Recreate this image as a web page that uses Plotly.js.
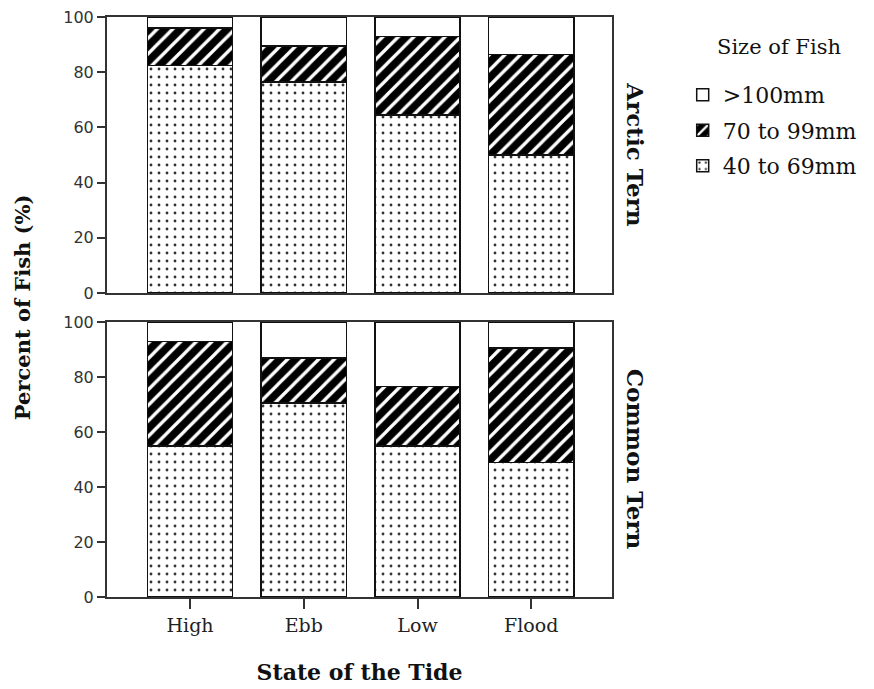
<!DOCTYPE html>
<html>
<head>
<meta charset="utf-8">
<script src="https://cdn.plot.ly/plotly-3.0.1.min.js"></script>
<style>html,body{margin:0;padding:0;background:#fff;}#chart{width:874px;height:689px;}</style>
</head>
<body>
<div id="chart"></div>
<script>
const tides = ['High', 'Ebb', 'Low', 'Flood'];
const sizeLabels = ['40 to 69mm', '70 to 99mm', '>100mm'];
const arctic40to69 = [82.5, 76.5, 64.5, 50];
const arctic70to99 = [13.5, 13, 28.5, 36.5];
const arcticOver100 = [4, 10.5, 7, 13.5];
const common40to69 = [55, 70.5, 55, 49];
const common70to99 = [38, 16.5, 21.5, 41.5];
const commonOver100 = [7, 13, 23.5, 9.5];
const panelLabels = ['Arctic Tern', 'Common Tern'];
const legendTitle = 'Size of Fish';

const outline = {color: '#111', width: 1.5};
const styles = [
  {color: 'white', line: outline, pattern: {shape: '.', fgcolor: '#333', bgcolor: 'white', size: 8, solidity: 0.1}},
  {color: 'black', line: outline, pattern: {shape: '/', fgcolor: 'white', bgcolor: 'black', size: 11, solidity: 0.3}},
  {color: 'white', line: outline}
];

function makeTraces(series, xa, ya, showLegend) {
  return series.map((vals, i) => ({
    type: 'bar', x: tides, y: vals, name: sizeLabels[i],
    xaxis: xa, yaxis: ya, marker: styles[i], showlegend: showLegend,
    legendgroup: sizeLabels[i], legendrank: 1000 - i, hoverinfo: 'skip'
  }));
}

const data = [
  ...makeTraces([arctic40to69, arctic70to99, arcticOver100], 'x', 'y', true),
  ...makeTraces([common40to69, common70to99, commonOver100], 'x2', 'y2', false)
];

const serif = 'DejaVu Serif, Liberation Serif, serif';
const yTickFont = {family: 'DejaVu Sans', size: 16, color: '#333'};
const axisCommon = {linecolor: '#333', linewidth: 2, mirror: true, showline: true, showgrid: false, zeroline: false};

const layout = {
  width: 874, height: 689,
  font: {family: serif, color: '#111'},
  margin: {l: 107, r: 262, t: 17, b: 92},
  barmode: 'stack', bargap: 0.25,
  paper_bgcolor: 'white', plot_bgcolor: 'white',
  showlegend: true,
  legend: {
    x: 1.14, y: 0.902, xanchor: 'left', yanchor: 'top',
    traceorder: 'grouped',
    font: {family: serif, size: 22, color: '#111'},
    itemwidth: 30, tracegroupgap: 4
  },
  xaxis: Object.assign({}, axisCommon, {domain: [0, 1], anchor: 'y', range: [-0.73, 3.71], showticklabels: false, ticks: ''}),
  yaxis: Object.assign({}, axisCommon, {domain: [0.5241, 1], anchor: 'x', range: [0, 100], tickvals: [0, 20, 40, 60, 80, 100], ticks: 'outside', ticklen: 8, tickwidth: 2, tickcolor: '#333', tickfont: yTickFont}),
  xaxis2: Object.assign({}, axisCommon, {domain: [0, 1], anchor: 'y2', range: [-0.73, 3.71], ticks: 'outside', ticklen: 10, tickwidth: 2, tickcolor: '#333', tickfont: {family: serif, size: 19, color: '#222'},
    title: {text: '<b>State of the Tide</b>', font: {family: serif, size: 22, color: '#111'}, standoff: 30}}),
  yaxis2: Object.assign({}, axisCommon, {domain: [0, 0.4741], anchor: 'x2', range: [0, 100], tickvals: [0, 20, 40, 60, 80, 100], ticks: 'outside', ticklen: 8, tickwidth: 2, tickcolor: '#333', tickfont: yTickFont}),
  annotations: [
    {text: legendTitle, xref: 'paper', yref: 'paper', x: 1.33, y: 0.9483, showarrow: false, xanchor: 'center', yanchor: 'middle', font: {family: serif, size: 21, color: '#111'}},
    {text: '<b>Percent of Fish (%)</b>', xref: 'paper', yref: 'paper', x: -0.168, y: 0.5, textangle: -90, showarrow: false, xanchor: 'center', yanchor: 'middle', font: {family: serif, size: 21, color: '#111'}},
    {text: '<b>' + panelLabels[0] + '</b>', xref: 'paper', yref: 'paper', x: 1.047, y: 0.762, textangle: 90, showarrow: false, xanchor: 'center', yanchor: 'middle', font: {family: serif, size: 23, color: '#111'}},
    {text: '<b>' + panelLabels[1] + '</b>', xref: 'paper', yref: 'paper', x: 1.047, y: 0.237, textangle: 90, showarrow: false, xanchor: 'center', yanchor: 'middle', font: {family: serif, size: 23, color: '#111'}}
  ]
};

Plotly.newPlot('chart', data, layout, {displayModeBar: false, staticPlot: true});
</script>
</body>
</html>
